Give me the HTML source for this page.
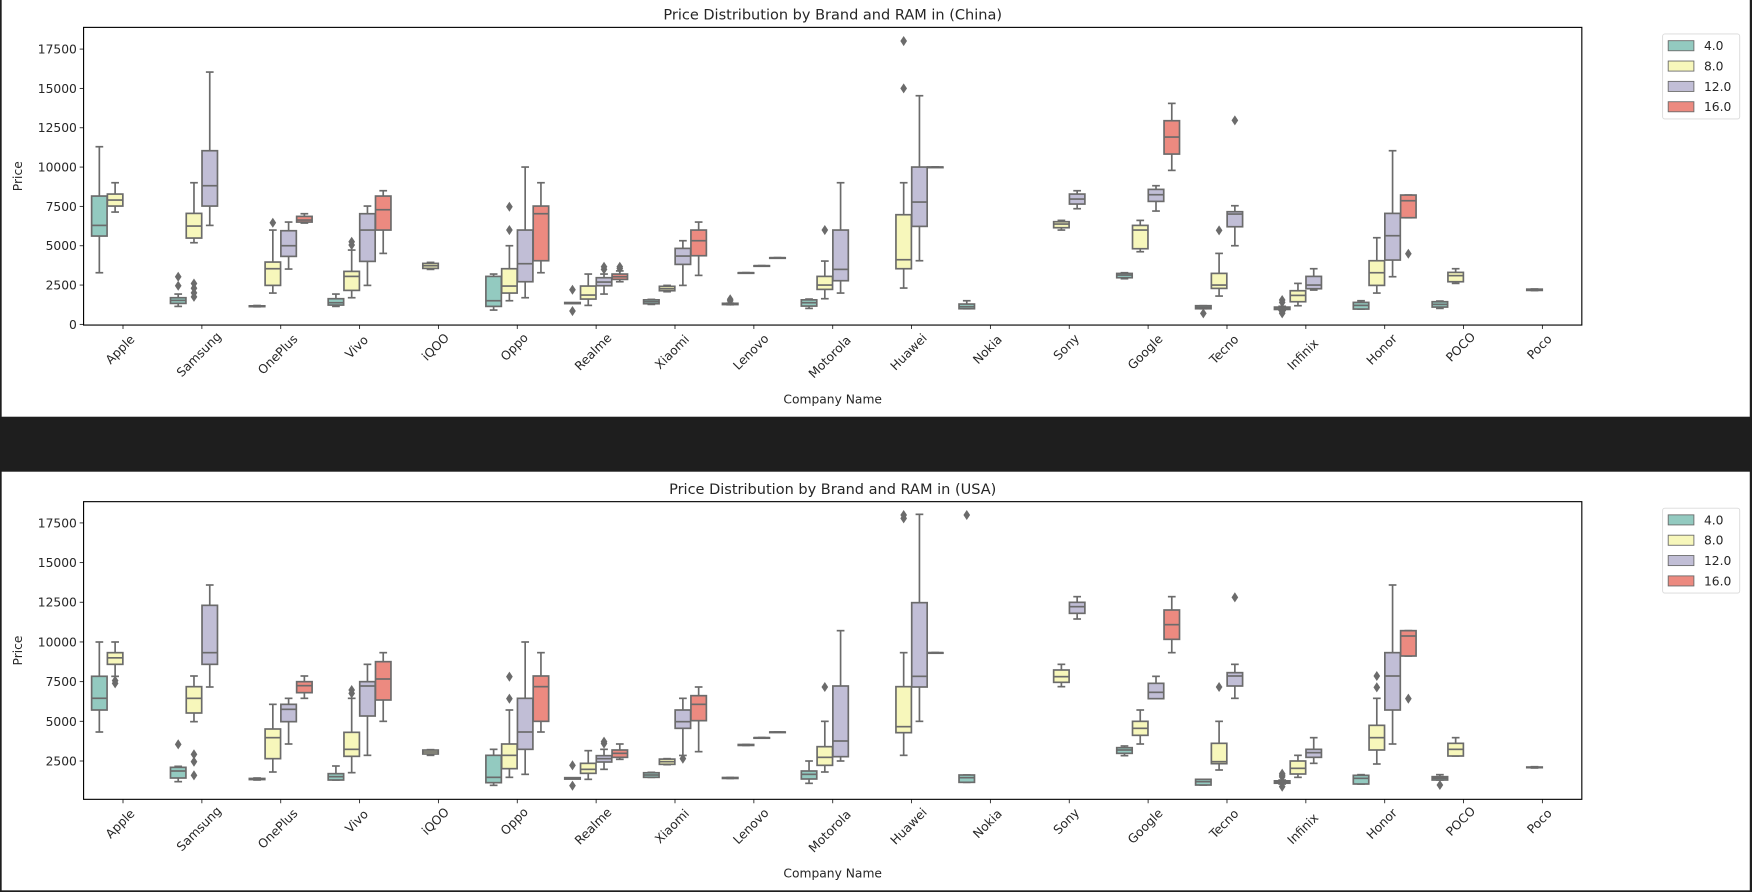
<!DOCTYPE html>
<html><head><meta charset="utf-8">
<style>
html,body{margin:0;padding:0;background:#1e1e1e;}
svg{display:block;}
text{font-family:"DejaVu Sans","Liberation Sans",sans-serif;fill:#262626;}
</style></head>
<body>
<svg id="chart" width="1752" height="892" viewBox="0 0 1568 798" preserveAspectRatio="none" xmlns="http://www.w3.org/2000/svg">
<rect x="0" y="0" width="1568" height="798" fill="#1e1e1e"/>
<rect x="1.5" y="0" width="1564.5" height="372.8" fill="#ffffff"/>
<rect x="1.5" y="422" width="1564.5" height="374.5" fill="#ffffff"/>
<g id="plots"></g>
</svg>
<script>
const categories = ["Apple","Samsung","OnePlus","Vivo","iQOO","Oppo","Realme","Xiaomi","Lenovo","Motorola","Huawei","Nokia","Sony","Google","Tecno","Infinix","Honor","POCO","Poco"];
const ramLevels = ["4.0","8.0","12.0","16.0"];
const yTicks = [0,2500,5000,7500,10000,12500,15000,17500];
// [brand, ram, low, q1, median, q3, high, outliers]
const chinaBoxes = [
[0,0,3284,5615,6293,8158,11294,[]],[0,1,7141,7522,7904,8285,9005,[]],
[1,0,1144,1335,1526,1695,1928,[3030,2458]],[1,1,5191,5488,6251,7056,9005,[2600,2300,2000,1750]],[1,2,6293,7522,8815,11040,16040,[]],
[2,0,1120,1130,1150,1180,1200,[]],[2,1,1992,2479,3539,3963,5997,[6463]],[2,2,3518,4323,5001,5954,6505,[]],[2,3,6442,6505,6633,6866,7035,[]],
[3,0,1144,1229,1377,1632,1928,[]],[3,1,1695,2161,3051,3369,4725,[5255,5043]],[3,2,2479,4005,5997,7035,7522,[]],[3,3,4513,5997,7289,8158,8497,[]],
[4,1,3497,3560,3730,3878,3941,[]],
[5,0,911,1144,1504,3051,3200,[]],[5,1,1504,1992,2437,3539,5001,[7480,5997]],[5,2,1695,2712,3857,5997,10002,[]],[5,3,3284,4047,7035,7522,9005,[]],
[6,0,1356,1320,1356,1390,1356,[2204,848]],[6,1,1208,1610,1865,2437,3200,[]],[6,2,1928,2458,2691,2967,3200,[3500,3666]],[6,3,2712,2860,3030,3200,3400,[3550,3666]],
[7,0,1271,1314,1441,1560,1589,[]],[7,1,2077,2140,2267,2420,2479,[]],[7,2,2479,3814,4344,4831,5319,[]],[7,3,3115,4365,5319,5997,6505,[]],
[8,0,1250,1260,1300,1340,1350,[1500,1600]],[8,1,3284,3284,3284,3284,3284,[]],[8,2,3730,3730,3730,3730,3730,[]],[8,3,4238,4238,4238,4238,4238,[]],
[9,0,1017,1165,1377,1560,1610,[]],[9,1,1632,2225,2500,3051,4026,[5997]],[9,2,1992,2776,3497,5997,9005,[]],
[10,1,2310,3539,4111,6972,9005,[18012,15003]],[10,2,4047,6230,7777,10002,14536,[]],[10,3,10002,10002,10002,10002,10002,[]],
[11,0,996,996,1123,1293,1504,[]],
[12,1,5997,6145,6378,6527,6611,[]],[12,2,7353,7650,7967,8285,8497,[]],
[13,0,2903,2967,3136,3240,3284,[]],[13,1,4619,4810,5997,6293,6611,[]],[13,2,7205,7819,8243,8582,8815,[]],[13,3,9790,10828,11909,12947,14049,[]],
[14,0,996,996,1081,1187,1187,[699]],[14,1,1801,2288,2500,3242,4513,[5976]],[14,2,5001,6208,7014,7162,7543,[12968]],
[15,0,900,950,1040,1100,1150,[1400,1550,800,700]],[15,1,1187,1441,1843,2140,2606,[]],[15,2,2183,2267,2500,3051,3539,[]],
[16,0,975,975,1208,1398,1504,[]],[16,1,1992,2479,3284,4047,5509,[]],[16,2,3030,4090,5637,7056,11040,[]],[16,3,6781,6781,7861,8222,8222,[4492]],
[17,0,1017,1102,1271,1440,1483,[]],[17,1,2606,2712,3100,3306,3539,[]],
[18,1,2150,2160,2204,2240,2250,[]]
];
const usaBoxes = [
[0,0,4327,5713,6451,7837,9997,[]],[0,1,7834,8590,9000,9325,9997,[7561,7393]],
[1,0,1198,1429,1870,2101,2164,[3550]],[1,1,4978,5524,6448,7183,7855,[2920,2458,1597]],[1,2,7162,8590,9325,12307,13588,[]],
[2,0,1303,1330,1366,1400,1429,[]],[2,1,1807,2647,3970,4516,6070,[]],[2,2,3571,4978,5755,6070,6448,[]],[2,3,6448,6805,7246,7498,7855,[]],
[3,0,1303,1303,1513,1702,2185,[]],[3,1,1765,2794,3235,4306,6448,[6973,6763]],[3,2,2857,5335,7225,7498,8590,[]],[3,3,4999,6343,7666,8758,9325,[]],
[4,1,2857,2941,3067,3190,3214,[]],
[5,0,967,1135,1471,2857,3235,[]],[5,1,1471,2017,2857,3571,5713,[7813,6427]],[5,2,1660,3235,4327,6448,9997,[]],[5,3,4327,4999,7183,7855,9325,[]],
[6,0,1408,1360,1408,1450,1408,[2227,946]],[6,1,1345,1723,1975,2353,3151,[]],[6,2,1975,2437,2647,2836,3235,[3600,3718]],[6,3,2605,2731,2983,3193,3571,[]],
[7,0,1471,1471,1618,1760,1786,[]],[7,1,2269,2290,2458,2620,2647,[]],[7,2,2850,4558,4978,5713,6448,[2647]],[7,3,3088,5041,6070,6616,7162,[]],
[8,0,1400,1400,1429,1460,1460,[]],[8,1,3480,3480,3508,3540,3540,[]],[8,2,3970,3970,3970,3970,3970,[]],[8,3,4327,4327,4327,4327,4327,[]],
[9,0,1093,1366,1660,1870,2500,[]],[9,1,1807,2227,2731,3403,4999,[7162]],[9,2,2500,2773,3760,7225,10711,[]],
[10,1,2857,4285,4663,7183,9325,[17998,17788]],[10,2,4999,7162,7834,12475,18040,[]],[10,3,9325,9325,9325,9325,9325,[]],
[11,0,1156,1156,1450,1618,1618,[17998]],
[12,1,7183,7456,7813,8233,8590,[]],[12,2,11446,11803,12223,12496,12853,[]],
[13,0,2836,2983,3193,3340,3445,[]],[13,1,3571,4117,4558,4999,5713,[]],[13,2,6427,6427,6826,7393,7834,[]],[13,3,9325,10165,11089,12013,12853,[]],
[14,0,987,987,1198,1345,1345,[]],[14,1,1933,2332,2458,3613,4999,[7162]],[14,2,6448,7225,7855,8065,8590,[12811]],
[15,0,1050,1100,1180,1250,1300,[1500,1600,1700,883]],[15,1,1471,1681,2038,2500,2857,[]],[15,2,2353,2731,3025,3235,3970,[]],
[16,0,1051,1051,1408,1597,1639,[]],[16,1,2311,3193,3970,4747,6448,[7855,7141]],[16,2,3571,5713,7855,9325,13588,[]],[16,3,9115,9115,10375,10711,10711,[6427]],
[17,0,1303,1303,1408,1513,1639,[987]],[17,1,2815,2815,3235,3613,3970,[]],
[18,1,2060,2080,2101,2120,2140,[]]
];
const ramColors = ["#93cac0","#f7f7bb","#c1bed6","#ec8a80"];

const NS="http://www.w3.org/2000/svg";
const root=document.getElementById('plots');
function mk(tag,attrs,parent){const e=document.createElementNS(NS,tag);for(const k in attrs)e.setAttribute(k,attrs[k]);(parent||root).appendChild(e);return e;}

function drawPanel(cfg){
  const g=mk('g',{});
  
  
  const L=74.8,R=1415.7,T=cfg.top,B=cfg.bottom;
  const step=(R-L)/categories.length;
  const xC=i=>L+(i+0.5)*step;
  const y=v=>T+(cfg.ymax-v)/(cfg.ymax-cfg.ymin)*(B-T);
  const bw=step*0.2*0.98;
  // title
  const title=mk('text',{x:(L+R)/2,y:T-7,'text-anchor':'middle','font-size':13},g);
  title.textContent=cfg.title;
  
  
  // y ticks
  yTicks.forEach(t=>{
    if(t<cfg.ymin||t>cfg.ymax)return;
    const yy=y(t);
    const tk=mk('line',{x1:L-3.5,x2:L,y1:yy,y2:yy,stroke:'#262626','stroke-width':0.8},g);
    
    
    const lb=mk('text',{x:L-6,y:yy+4,'text-anchor':'end','font-size':11},g);
    lb.textContent=t;
    
    
  });
  const yl=mk('text',{x:0,y:0,'text-anchor':'middle','font-size':11,transform:`translate(19.5,${(T+B)/2}) rotate(-90)`},g);
  yl.textContent='Price';
  
  
  // x ticks
  categories.forEach((c,i)=>{
    const xx=xC(i);
    const tk=mk('line',{x1:xx,x2:xx,y1:B,y2:B+3.5,stroke:'#262626','stroke-width':0.8},g);
    
    
    const lb=mk('text',{x:0,y:0,'text-anchor':'middle','font-size':11},g);
    lb.textContent=c;
    
    
    const w=c.length*6.3;
    const h=11;
    const cy=B+6+(w+h)*0.7071/2;
    lb.setAttribute('transform',`translate(${xx},${cy+3.5}) rotate(-45)`);
  });
  const xl=mk('text',{x:(L+R)/2,y:cfg.xlabelY,'text-anchor':'middle','font-size':11},g);
  xl.textContent='Company Name';
  
  
  // boxes
  cfg.data.forEach(d=>{
    const [bi,ri,lo,q1,md,q3,hi,outs]=d;
    const cx=xC(bi)+(ri-1.5)*step*0.2;
    const bg=mk('g',{},g);
    
    
    const st={stroke:'#6b6b6b','stroke-width':1.5,fill:'none'};
    const ln=(x1,y1,x2,y2)=>mk('line',Object.assign({x1,y1,x2,y2},st),bg);
    ln(cx,y(hi),cx,y(q3));ln(cx,y(q1),cx,y(lo));
    ln(cx-bw/4,y(hi),cx+bw/4,y(hi));ln(cx-bw/4,y(lo),cx+bw/4,y(lo));
    const yt=y(Math.max(q1,q3)),yb=y(Math.min(q1,q3));
    mk('rect',{x:cx-bw/2,y:yt,width:bw,height:Math.max(yb-yt,0.5),fill:ramColors[ri],stroke:'#6b6b6b','stroke-width':1.5},bg);
    ln(cx-bw/2,y(md),cx+bw/2,y(md));
    outs.forEach(o=>{
      const oy=y(o);
      const p=mk('polygon',{points:`${cx},${oy-4.5} ${cx+3},${oy} ${cx},${oy+4.5} ${cx-3},${oy}`,fill:'#6b6b6b'},bg);
      
      
    });
  });
  const fr=mk('rect',{x:L,y:T,width:R-L,height:B-T,fill:'none',stroke:'#000','stroke-width':1},g);
  
  
  // legend
  const lg=mk('g',{},g);
  
  
  const lt=cfg.legendTop;
  mk('rect',{x:1488,y:lt,width:69,height:76,rx:2,fill:'#fff',stroke:'#d9d9d9','stroke-width':0.8},lg);
  ramLevels.forEach((r,k)=>{
    const cy=lt+10.5+k*18.2;
    const e=mk('g',{},lg);
    
    
    mk('rect',{x:1493,y:cy-4.5,width:23,height:9,fill:ramColors[k],stroke:'#6b6b6b','stroke-width':0.8},e);
    const t=mk('text',{x:1525,y:cy+4,'font-size':11},e);
    t.textContent=r;
  });
}
drawPanel({key:'china',title:'Price Distribution by Brand and RAM in (China)',top:24.5,bottom:290.8,ymin:-42,ymax:18880,data:chinaBoxes,xlabelY:361,legendTop:30.4});
drawPanel({key:'usa',title:'Price Distribution by Brand and RAM in (USA)',top:448.8,bottom:715.1,ymin:85,ymax:18838,data:usaBoxes,xlabelY:785,legendTop:454.6});
</script>
</body></html>
